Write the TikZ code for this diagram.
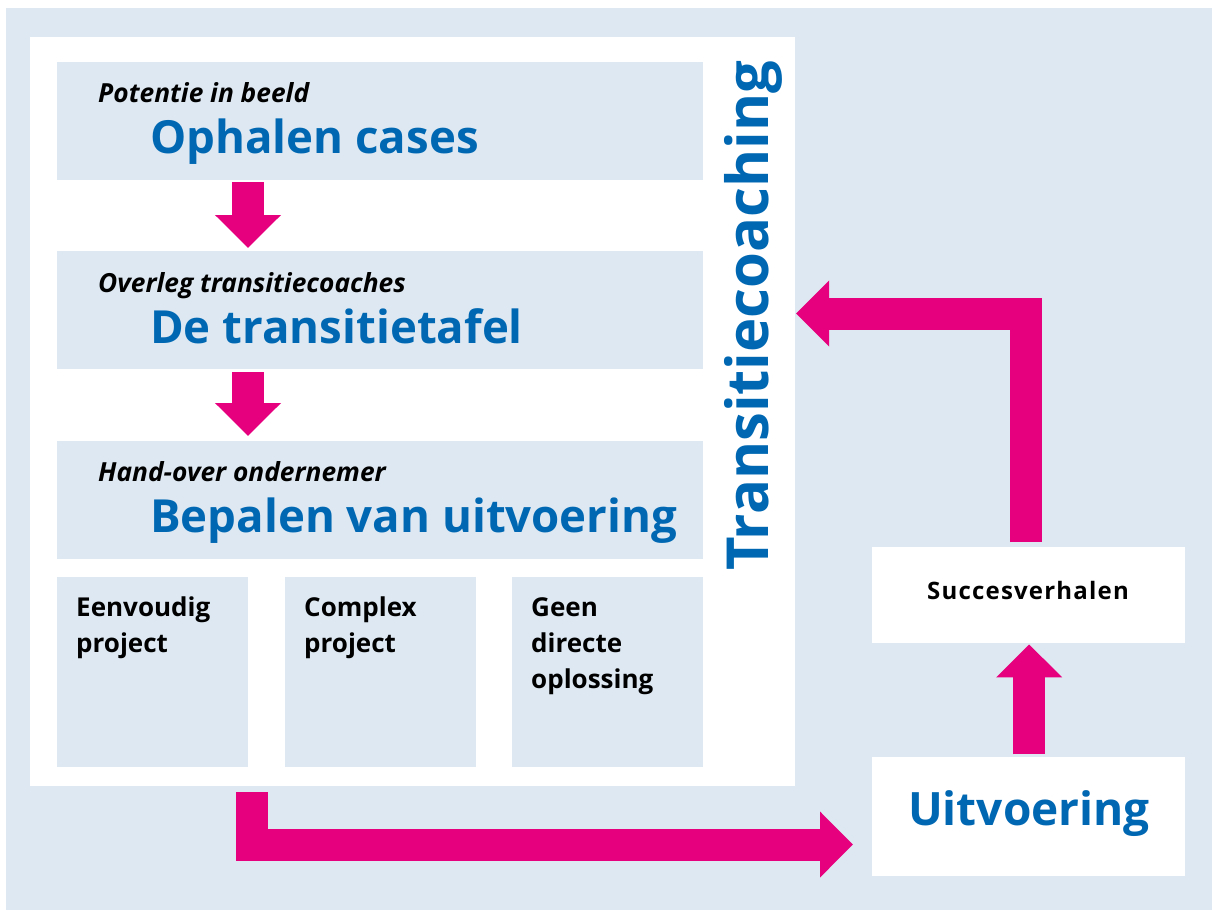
\documentclass[tikz,border=0pt]{standalone}
\usepackage{fontspec}
\setmainfont{Open Sans}
\usetikzlibrary{arrows.meta}
\definecolor{bgblue}{HTML}{DDE8F2}
\definecolor{tblue}{HTML}{0068B3}
\definecolor{pinkc}{HTML}{E6007E}
\begin{document}
\begin{tikzpicture}[x=1pt,y=-1pt,
  panelbox/.style={fill=white, draw=none, inner sep=0pt, anchor=north west},
  stagebox/.style={fill=bgblue, draw=none, inner sep=0pt, anchor=north west, minimum width=646pt, minimum height=118pt},
  smallbox/.style={fill=bgblue, draw=none, inner sep=0pt, anchor=north west, minimum width=191pt, minimum height=190pt},
  whitebox/.style={fill=white, draw=none, inner sep=0pt, minimum width=313pt},
  subtitle/.style={anchor=base west, inner sep=0pt, font=\fontsize{26.3}{28}\selectfont\bfseries\itshape, text=black},
  title/.style={anchor=base west, inner sep=0pt, font=\fontsize{45.6}{50}\selectfont\bfseries, text=tblue},
  smalltext/.style={anchor=north west, inner sep=0pt, align=left, font=\fontsize{26}{36}\selectfont\bfseries, text=black},
  barrow/.style={draw=pinkc, line width=32pt, line join=miter, -{Triangle[length=33pt,width=64pt]}},
]
\useasboundingbox (0,0) rectangle (1212,910);
\fill[white] (0,0) rectangle (1212,910);
\fill[bgblue] (6,8) rectangle (1212,910);

% main white panel
\node[panelbox, minimum width=765pt, minimum height=749pt] (panel) at (30,37) {};

% stage boxes
\node[stagebox] (b1) at (57,62) {};
\node[stagebox] (b2) at (57,251) {};
\node[stagebox] (b3) at (57,441) {};

\node[subtitle] (s1) at (98,102) {Potentie in beeld};
\node[title] (t1) at (150,153) {Ophalen cases};
\node[subtitle] (s2) at (98,292) {Overleg transitiecoaches};
\node[title] (t2) at (150,343) {De transitietafel};
\node[subtitle] (s3) at (98,481) {Hand-over ondernemer};
\node[title] (t3) at (150,532) {Bepalen van uitvoering};

% small boxes
\node[smallbox] (p1) at (57,577) {};
\node[smallbox] (p2) at (285,577) {};
\node[smallbox] (p3) at (512,577) {};
\node[smalltext] (q1) at (76,597) {Eenvoudig\\project};
\node[smalltext] (q2) at (304,597) {Complex\\project};
\node[smalltext] (q3) at (531,597) {Geen\\directe\\oplossing};

% vertical label
\node[rotate=90, anchor=base west, inner sep=0pt, font=\fontsize{58}{60}\selectfont\bfseries, text=tblue] (vt) at (768,571) {Transitiecoaching};

% right boxes
\node[whitebox, minimum height=96pt, anchor=north west] (succ) at (872,547) {};
\node[font=\fontsize{24}{26}\selectfont\bfseries\addfontfeatures{LetterSpace=5}, text=black, inner sep=0pt] (succt) at (1028,590) {Succesverhalen};
\node[whitebox, minimum height=119pt, anchor=north west] (uit) at (872,757) {};
\node[font=\fontsize{46}{50}\selectfont\bfseries, text=tblue, inner sep=0pt] (uitt) at (1029,814) {Uitvoering};

% connectors
\coordinate (ax) at (248,0);
\draw[barrow, shorten <=2pt, shorten >=3pt] (ax |- b1.south) -- (ax |- b2.north);
\draw[barrow, shorten <=3pt, shorten >=5pt] (ax |- b2.south) -- (ax |- b3.north);

\coordinate (c1) at (251.5,792);
\coordinate (c2) at (853,844.5);
\draw[barrow] (c1) |- (c2);

\draw[barrow, shorten <=3pt, shorten >=1pt] ([xshift=0.5pt]uit.north) -- ([xshift=0.5pt]succ.south);

\coordinate (k1) at (1025.5,542);
\coordinate (k2) at (796,313.5);
\draw[barrow] (k1) |- (k2);
\end{tikzpicture}
\end{document}
